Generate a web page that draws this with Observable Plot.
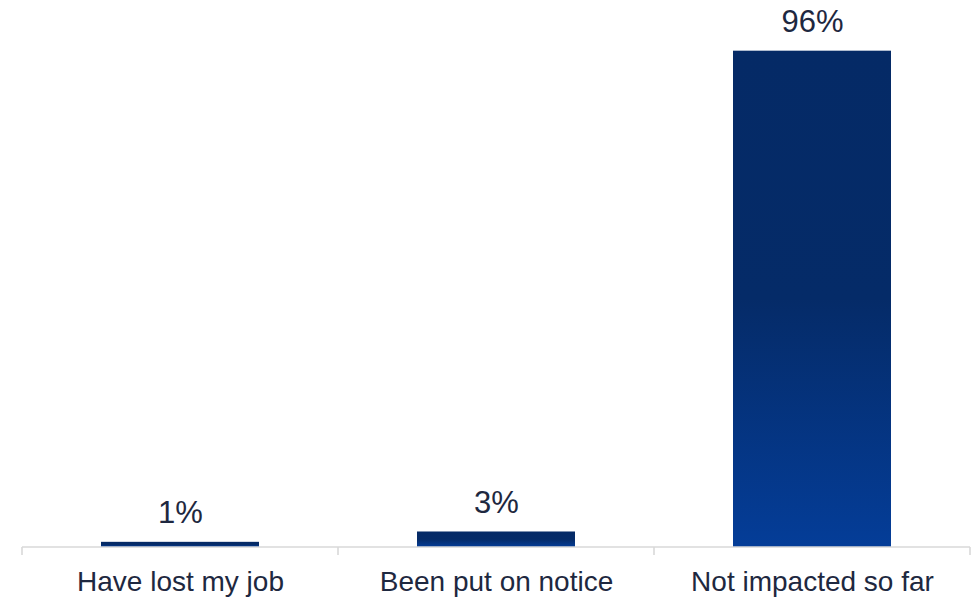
<!DOCTYPE html>
<html>
<head>
<meta charset="utf-8">
<script src="https://cdn.jsdelivr.net/npm/d3@7"></script>
<script src="https://cdn.jsdelivr.net/npm/@observablehq/plot@0.6"></script>
<style>
  html, body { margin: 0; padding: 0; background: #fff; }
  #chart svg { display: block; }
</style>
</head>
<body>
<div id="chart"></div>
<script>
const categories = ["Have lost my job", "Been put on notice", "Not impacted so far"];
const values = [1, 3, 96];
const valueLabels = ["1%", "3%", "96%"];

const data = categories.map((c, i) => ({category: c, value: values[i], label: valueLabels[i]}));
const font = "Liberation Sans, Arial, Helvetica, sans-serif";
const textColor = "#1e2840";

const boundaryTicks = (index, scales, values, dimensions) => {
  const g = d3.create("svg:g");
  const x = scales.x;
  const y0 = scales.y(0);
  const step = x.step();
  const doms = x.domain();
  const xs = doms.map(d => x(d) - (step - x.bandwidth()) / 2);
  xs.push(x(doms[doms.length - 1]) + x.bandwidth() + (step - x.bandwidth()) / 2);
  g.append("line")
    .attr("x1", xs[0]).attr("x2", xs[xs.length - 1])
    .attr("y1", y0).attr("y2", y0)
    .attr("stroke", "#d9d9d9").attr("stroke-width", 1.6);
  for (const xv of xs) {
    g.append("line")
      .attr("x1", xv).attr("x2", xv)
      .attr("y1", y0).attr("y2", y0 + 8)
      .attr("stroke", "#d9d9d9").attr("stroke-width", 1.6);
  }
  return g.node();
};

const chart = Plot.plot({
  width: 971,
  height: 598,
  marginLeft: 22,
  marginRight: 1,
  marginTop: 30,
  marginBottom: 51,
  style: {fontFamily: font, background: "#fff"},
  x: {domain: categories, paddingInner: 0.5, paddingOuter: 0.25, align: 0.5, axis: null},
  y: {domain: [0, 100], axis: null},
  marks: [
    Plot.barY(data, {x: "category", y: "value", fill: "url(#barGrad)"}),
    boundaryTicks,
    Plot.text(data, {x: "category", y: "value", text: "label", dy: -29, fontSize: 31, fill: textColor}),
    Plot.axisX({tickSize: 0, tickPadding: 24, fontSize: 28, color: textColor, fill: textColor, label: null})
  ]
});

const svg = d3.select(chart);
const defs = svg.insert("defs", ":first-child");
const grad = defs.append("linearGradient").attr("id", "barGrad")
  .attr("x1", 0).attr("y1", 0).attr("x2", 0).attr("y2", 1);
grad.append("stop").attr("offset", "0").attr("stop-color", "#052a66");
grad.append("stop").attr("offset", "0.5").attr("stop-color", "#052b68");
grad.append("stop").attr("offset", "1").attr("stop-color", "#043d98");

document.getElementById("chart").appendChild(chart);
</script>
</body>
</html>
